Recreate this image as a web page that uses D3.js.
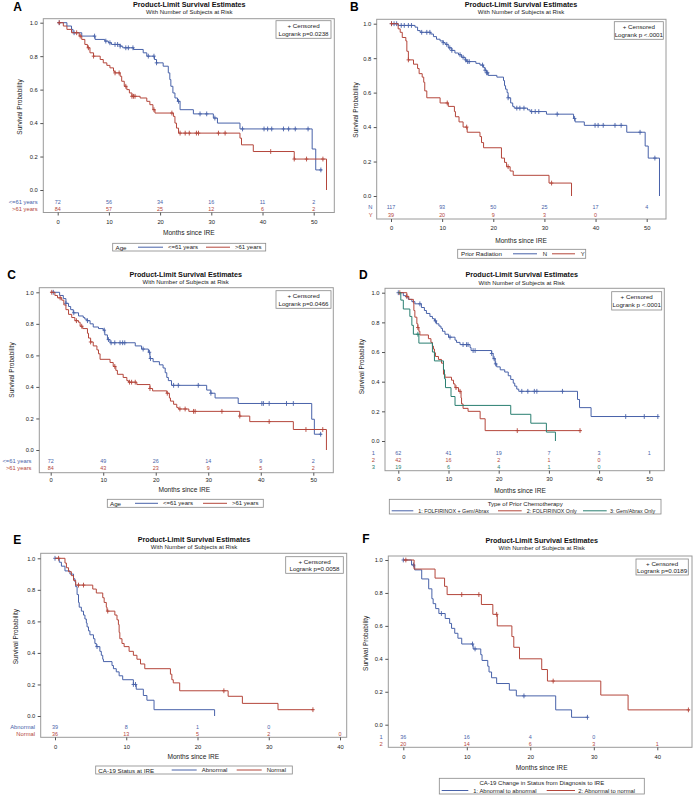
<!DOCTYPE html>
<html><head><meta charset="utf-8">
<script src="https://cdn.jsdelivr.net/npm/d3@7"></script>
<style>
body{margin:0;background:#fff;}
svg{display:block;font-family:"Liberation Sans",Arial,sans-serif;}
</style></head><body>
<svg id="c" width="695" height="795"></svg>
<script>
// ---------------- DATA ----------------
const yTicks = [0, 0.2, 0.4, 0.6, 0.8, 1.0];
const xTicks50 = [0, 10, 20, 30, 40, 50];
const xTicks40 = [0, 10, 20, 30, 40];
const mainTitle = "Product-Limit Survival Estimates";
const subTitle = "With Number of Subjects at Risk";
const xTitle = "Months since IRE";
const yTitle = "Survival Probability";

// Panel A — Age
const A_names = ["<=61 years", ">61 years"];
const A_pvalue = "Logrank p=0.0238";
const A_risk1 = [72, 56, 34, 16, 11, 2];
const A_risk2 = [84, 57, 25, 12, 6, 2];
const A_steps1 = [[0,1],[1.8,0.98],[2.7,0.96],[3.0,0.94],[4.7,0.92],[7.3,0.90],[9.2,0.89],[9.9,0.88],[10.5,0.87],[12.2,0.86],[12.7,0.85],[14.8,0.84],[16.7,0.82],[17.4,0.80],[18.9,0.78],[19.3,0.76],[20.6,0.74],[21.6,0.70],[21.9,0.66],[22.1,0.62],[22.5,0.58],[22.9,0.55],[23.4,0.53],[23.9,0.48],[26.5,0.455],[30.4,0.43],[31.2,0.40],[35.6,0.365],[49.7,0.245],[50.4,0.12]];
const A_end1 = 51.6;
const A_cens1 = [0.3,3.2,7.2,9.4,10.2,11.2,11.7,12.2,13.3,13.8,14.7,17.7,18.8,19.3,23.6,27.8,29.1,30.7,36.1,40.3,41.0,41.8,44.1,45.1,46.4,48.9,51.4];
const A_steps2 = [[0,1],[1.1,0.98],[1.8,0.96],[2.7,0.94],[4.2,0.92],[4.7,0.90],[5.3,0.87],[5.8,0.85],[6.3,0.82],[7.0,0.80],[8.3,0.78],[8.9,0.76],[9.6,0.745],[10.2,0.73],[10.9,0.71],[11.2,0.70],[12.2,0.68],[12.5,0.65],[13.0,0.62],[13.5,0.60],[14.0,0.58],[14.5,0.56],[16.1,0.55],[17.4,0.53],[18.0,0.51],[18.6,0.48],[19.0,0.46],[22.6,0.44],[22.9,0.40],[23.2,0.37],[23.6,0.34],[35.6,0.31],[35.9,0.27],[38.2,0.23],[46.2,0.185],[52.5,0]];
const A_end2 = null;
const A_cens2 = [0.3,3.7,4.4,6.0,7.0,11.2,12.0,13.3,14.5,14.8,15.1,18.8,22.3,23.9,24.9,25.7,27.1,27.5,31.4,32.7,41.6,46.2,48.6,51.8];

// Panel B — Prior Radiation
const B_names = ["N", "Y"];
const B_pvalue = "Logrank p <.0001";
const B_risk1 = [117, 93, 50, 25, 17, 4];
const B_risk2 = [39, 20, 9, 3, 0];
const B_steps1 = [[0,1],[1.4,0.99],[4.7,0.98],[5.2,0.96],[5.7,0.95],[7.8,0.94],[8.3,0.925],[8.9,0.91],[9.6,0.90],[10.2,0.89],[10.6,0.88],[11.2,0.86],[11.9,0.845],[12.5,0.83],[13.2,0.82],[13.8,0.805],[14.5,0.79],[14.8,0.78],[16.6,0.77],[17.4,0.76],[18.1,0.745],[18.4,0.73],[18.7,0.715],[19.0,0.70],[20.7,0.69],[22.0,0.67],[22.2,0.64],[22.4,0.62],[22.7,0.60],[22.9,0.57],[23.4,0.54],[23.8,0.52],[24.1,0.51],[26.7,0.50],[27.2,0.49],[30.4,0.475],[35.7,0.45],[36.0,0.43],[37.8,0.41],[46.1,0.37],[49.7,0.29],[50.3,0.22],[52.5,0]];
const B_end1 = null;
const B_cens1 = [0.1,0.6,1.1,2.0,2.6,3.4,4.0,6.0,7.0,7.6,10.2,10.9,11.5,11.9,13.5,14.1,14.6,15.0,15.3,17.9,18.4,18.7,18.9,22.9,24.6,25.2,26.0,27.5,28.2,28.9,32.5,35.9,39.9,40.5,41.5,43.8,45.0,48.7,51.6];
const B_steps2 = [[0,1],[1.4,0.97],[1.8,0.95],[2.2,0.92],[2.9,0.90],[3.1,0.84],[3.4,0.79],[4.4,0.765],[5.2,0.74],[5.5,0.71],[6.1,0.69],[6.4,0.66],[6.6,0.61],[7.0,0.57],[9.6,0.54],[11.2,0.52],[12.4,0.49],[12.6,0.46],[13.3,0.43],[14.1,0.40],[14.9,0.37],[17.4,0.345],[17.7,0.31],[18.1,0.28],[21.6,0.22],[22.2,0.195],[22.6,0.17],[23.3,0.145],[23.9,0.12],[30.9,0.075],[35.3,0]];
const B_end2 = null;
const B_cens2 = [0.1,3.4,11.0,14.8,22.9,31.4];

// Panel C — Age
const C_names = ["<=61 years", ">61 years"];
const C_pvalue = "Logrank p=0.0466";
const C_risk1 = [72, 49, 26, 14, 9, 2];
const C_risk2 = [84, 43, 23, 9, 5, 2];
const C_steps1 = [[0,1],[1.7,0.98],[2.4,0.96],[2.9,0.93],[3.4,0.91],[3.8,0.89],[4.3,0.87],[5.3,0.85],[6.2,0.84],[6.5,0.83],[6.9,0.82],[7.5,0.80],[8.1,0.78],[9.1,0.77],[10.0,0.76],[10.3,0.73],[10.8,0.70],[11.3,0.68],[16.1,0.66],[17.3,0.64],[18.6,0.62],[18.9,0.58],[19.5,0.56],[20.7,0.54],[21.4,0.52],[21.8,0.49],[22.1,0.46],[22.4,0.44],[23.0,0.41],[29.7,0.38],[30.5,0.36],[31.3,0.33],[35.7,0.295],[49.7,0.195],[50.2,0.10]];
const C_end1 = 51.6;
const C_cens1 = [0.5,2.9,4.4,7.0,10.2,11.0,11.5,12.2,13.2,13.7,14.1,17.6,18.8,19.0,23.4,24.3,28.1,30.5,40.2,40.5,41.6,44.9,46.2,51.4];
const C_steps2 = [[0,1],[0.8,0.98],[1.3,0.965],[2.1,0.95],[2.5,0.92],[2.9,0.89],[3.4,0.86],[4.0,0.84],[4.6,0.82],[5.3,0.81],[5.6,0.785],[6.1,0.77],[7.0,0.74],[7.2,0.71],[7.6,0.685],[8.1,0.66],[8.8,0.635],[9.1,0.61],[9.4,0.575],[11.3,0.555],[11.9,0.53],[12.4,0.505],[12.7,0.48],[13.8,0.46],[14.5,0.44],[14.8,0.43],[16.4,0.415],[18.9,0.39],[19.4,0.375],[22.1,0.36],[22.6,0.33],[22.8,0.31],[23.4,0.29],[24.0,0.27],[24.3,0.26],[26.3,0.245],[36.0,0.215],[37.9,0.18],[46.2,0.13],[52.5,0]];
const C_end2 = null;
const C_cens2 = [0.2,1.8,4.9,5.9,7.6,12.2,15.0,15.4,16.1,18.9,22.2,24.6,25.6,27.2,27.5,32.6,36.0,41.6,48.6,51.8];

// Panel D — Type of Prior Chemotherapy
const D_names = ["1: FOLFIRINOX + Gem/Abrax", "2: FOLFIRINOX Only", "3: Gem/Abrax Only"];
const D_riskLabels = ["1", "2", "3"];
const D_pvalue = "Logrank p <.0001";
const D_risk1 = [62, 41, 19, 7, 3, 1];
const D_risk2 = [42, 16, 2, 1, 0];
const D_risk3 = [19, 6, 4, 1, 0];
const D_steps1 = [[0,1],[1.0,0.98],[1.5,0.97],[2.0,0.955],[2.7,0.94],[3.3,0.925],[4.6,0.90],[5.2,0.88],[5.6,0.86],[6.3,0.84],[6.8,0.825],[7.2,0.81],[7.6,0.79],[8.1,0.775],[8.5,0.76],[8.8,0.74],[9.3,0.72],[10.0,0.70],[11.3,0.68],[11.6,0.665],[12.3,0.65],[14.3,0.63],[14.5,0.61],[18.6,0.59],[18.9,0.555],[19.3,0.52],[19.6,0.50],[20.3,0.48],[21.2,0.465],[21.9,0.44],[22.4,0.415],[22.9,0.39],[23.2,0.37],[23.6,0.35],[24.0,0.335],[35.7,0.28],[36.1,0.225],[38.4,0.165]];
const D_end1 = 51.8;
const D_cens1 = [0.0,4.3,7.4,10.3,12.9,13.6,13.9,14.9,15.3,18.6,19.1,19.4,24.6,25.8,27.1,27.6,32.7,45.3,49.0,51.7];
const D_steps2 = [[0,1],[1.7,0.975],[2.1,0.955],[3.0,0.93],[3.1,0.88],[3.3,0.835],[3.7,0.79],[3.9,0.765],[4.1,0.74],[4.3,0.715],[6.0,0.69],[6.5,0.665],[6.8,0.64],[7.0,0.62],[7.2,0.595],[7.4,0.57],[8.0,0.55],[8.6,0.525],[9.0,0.45],[9.3,0.43],[10.6,0.41],[11.0,0.385],[11.3,0.36],[12.0,0.335],[12.5,0.29],[12.6,0.25],[12.9,0.22],[13.9,0.20],[16.3,0.15],[17.3,0.07]];
const D_end2 = 36.5;
const D_cens2 = [0.3,1.7,3.9,11.5,12.3,23.7,36.2];
const D_steps3 = [[0,1],[0.5,0.95],[1.0,0.89],[2.3,0.84],[2.7,0.78],[3.0,0.72],[4.1,0.66],[6.8,0.60],[7.2,0.54],[9.0,0.48],[9.2,0.42],[9.4,0.36],[10.5,0.30],[11.3,0.24],[22.4,0.18],[26.4,0.12],[29.5,0.06],[31.3,0]];
const D_end3 = null;
const D_cens3 = [3.9];

// Panel E — CA-19 Status at IRE
const E_names = ["Abnormal", "Normal"];
const E_pvalue = "Logrank p=0.0058";
const E_risk1 = [39, 8, 1, 0];
const E_risk2 = [36, 13, 5, 2, 0];
const E_steps1 = [[0,1],[0.6,0.975],[0.9,0.95],[1.4,0.92],[2.1,0.90],[2.6,0.87],[2.8,0.85],[2.9,0.82],[3.1,0.77],[3.3,0.72],[3.4,0.69],[3.7,0.665],[4.0,0.64],[4.2,0.615],[4.4,0.59],[4.5,0.565],[4.7,0.54],[4.9,0.515],[5.4,0.49],[5.6,0.46],[5.8,0.44],[6.3,0.41],[6.5,0.385],[6.7,0.36],[6.8,0.345],[8.0,0.32],[8.2,0.30],[8.6,0.28],[9.0,0.255],[9.5,0.23],[11.0,0.20],[11.4,0.17],[12.4,0.13],[12.9,0.10],[13.9,0.04],[22.4,0]];
const E_end1 = null;
const E_cens1 = [0.0,5.9,11.0,11.3];
const E_steps2 = [[0,1],[1.4,0.97],[1.6,0.94],[1.9,0.915],[2.3,0.89],[2.6,0.86],[2.9,0.83],[5.3,0.805],[5.8,0.78],[6.7,0.75],[6.9,0.72],[7.2,0.69],[7.3,0.665],[8.4,0.64],[8.7,0.61],[8.9,0.58],[9.0,0.53],[9.1,0.49],[9.4,0.46],[9.7,0.44],[10.4,0.41],[11.0,0.385],[11.5,0.36],[12.0,0.33],[12.6,0.30],[16.2,0.265],[16.4,0.23],[16.6,0.21],[17.5,0.16],[24.3,0.125],[26.3,0.08],[31.3,0.04]];
const E_end2 = 36.3;
const E_cens2 = [0.5,3.3,4.0,7.4,23.7,36.2];

// Panel F — CA-19 Change in Status from Diagnosis to IRE
const F_names = ["1: Abnormal to abnormal", "2: Abnormal to normal"];
const F_riskLabels = ["1", "2"];
const F_pvalue = "Logrank p=0.0189";
const F_risk1 = [36, 16, 4, 0];
const F_risk2 = [20, 14, 6, 3, 1];
const F_steps1 = [[0,1],[1.3,0.97],[1.8,0.94],[2.9,0.885],[4.0,0.825],[4.5,0.765],[4.7,0.735],[5.1,0.705],[5.6,0.675],[6.6,0.645],[7.3,0.615],[7.6,0.585],[8.1,0.555],[8.6,0.525],[9.2,0.49],[11.0,0.46],[12.2,0.425],[12.4,0.39],[13.3,0.355],[13.5,0.32],[13.9,0.285],[14.7,0.25],[16.7,0.21],[17.8,0.175],[24.0,0.09],[26.5,0.045]];
const F_end1 = 29.1;
const F_cens1 = [0.0,1.6,6.0,10.9,11.3,19.0,29.0];
const F_steps2 = [[0,1],[1.7,0.945],[5.0,0.89],[6.5,0.84],[6.9,0.79],[12.3,0.73],[14.1,0.67],[14.8,0.60],[17.1,0.535],[17.4,0.47],[18.3,0.40],[21.8,0.335],[22.7,0.265],[31.1,0.18],[35.4,0.09]];
const F_end2 = 45.1;
const F_cens2 = [0.4,9.2,11.9,14.7,23.6,44.9];

// ---------------- STYLE ----------------
const BLUE = "#4862a9", RED = "#b4463b", GREEN = "#2a7f71";
const FRAME = "#9a9a9a", TXT = "#222";

// ---------------- LAYOUT + BUILD ----------------
const panels = [
 {letter:"A", lx:13.3, ly:7, title:[189.3,4.3,12.2],
  frame:[43.3,18.7,334.3,212.5], xd:[0,50], xr:[57.7,313.7], yr:[190,22.7], xt:xTicks50,
  ylab:[19,107], xlab:[188.8,232.7], tickY:221.7,
  cbox:[276,20.7,331,38.3], pval:A_pvalue,
  riskX:37.7, riskY:[202,209.3], riskLabels:A_names,
  series:[{s:A_steps1,e:A_end1,c:A_cens1,r:A_risk1,col:BLUE},{s:A_steps2,e:A_end2,c:A_cens2,r:A_risk2,col:RED}],
  legend:{box:[112.7,243.3,265.7,251], y:247.2, fs:6.0, title:{t:"Age",x:115.5}, items:[[138,163,168,A_names[0]],[206,230,235,A_names[1]]]}},
 {letter:"B", lx:350, ly:7, title:[521,4.3,12.2],
  frame:[376.7,19.3,666,219], xd:[0,50], xr:[391,646.7], yr:[196,23.7], xt:xTicks50,
  ylab:[355,110], xlab:[521,240], tickY:228.3,
  cbox:[614.3,21.7,663.3,39.3], pval:B_pvalue,
  riskX:372.5, riskY:[207.3,214.7], riskLabels:B_names,
  series:[{s:B_steps1,e:B_end1,c:B_cens1,r:B_risk1,col:BLUE},{s:B_steps2,e:B_end2,c:B_cens2,r:B_risk2,col:RED}],
  legend:{box:[457.7,249.3,585.7,258.3], y:253.8, fs:6.0, title:{t:"Prior Radiation",x:461}, items:[[513,537,542.7,B_names[0]],[552,575,580.7,B_names[1]]]}},
 {letter:"C", lx:7.3, ly:275, title:[185.7,274.6,282.4],
  frame:[39.3,287.7,333.3,472.7], xd:[0,50], xr:[50.7,313.3], yr:[450,292.3], xt:xTicks50,
  ylab:[11.7,370], xlab:[184.3,489.3], tickY:480,
  cbox:[276,290.7,331,308.3], pval:C_pvalue,
  riskX:31.5, riskY:[460.7,468.3], riskLabels:C_names,
  series:[{s:C_steps1,e:C_end1,c:C_cens1,r:C_risk1,col:BLUE},{s:C_steps2,e:C_end2,c:C_cens2,r:C_risk2,col:RED}],
  legend:{box:[107.3,499.3,263.3,507.3], y:503.3, fs:6.0, title:{t:"Age",x:110}, items:[[135,158,163,C_names[0]],[203,227,232,C_names[1]]]}},
 {letter:"D", lx:359, ly:275.3, title:[521.7,274.8,282.8],
  frame:[385,288.3,664.3,470.7], xd:[0,50], xr:[398.3,649.3], yr:[441,292.7], xt:xTicks50,
  ylab:[361.7,366.7], xlab:[520,490], tickY:479,
  cbox:[611.7,291.7,661.7,310], pval:D_pvalue,
  riskX:375, riskY:[452.5,459.7,466.9], riskLabels:D_riskLabels,
  series:[{s:D_steps1,e:D_end1,c:D_cens1,r:D_risk1,col:BLUE},{s:D_steps2,e:D_end2,c:D_cens2,r:D_risk2,col:RED},{s:D_steps3,e:D_end3,c:D_cens3,r:D_risk3,col:GREEN}],
  legend:{box:[389.3,499.3,661,514], y:510.8, fs:5.3, ctitle:{t:"Type of Prior Chemotherapy",y:503.6}, items:[[391.7,413.3,418.3,D_names[0]],[498,521.7,526.7,D_names[1]],[583,606.7,610,D_names[2]]]}},
 {letter:"E", lx:13.3, ly:539.5, title:[194,539,547.1],
  frame:[40.7,553.3,346.7,737.3], xd:[0,40], xr:[55,340], yr:[716,558.3], xt:xTicks40,
  ylab:[15,636.7], xlab:[193.3,756.7], tickY:746.7,
  cbox:[285.7,556.7,343.3,573.3], pval:E_pvalue,
  riskX:35, riskY:[727.3,734.2], riskLabels:E_names,
  series:[{s:E_steps1,e:E_end1,c:E_cens1,r:E_risk1,col:BLUE},{s:E_steps2,e:E_end2,c:E_cens2,r:E_risk2,col:RED}],
  legend:{box:[95.7,766,292.3,774], y:770, fs:6.0, title:{t:"CA-19 Status at IRE",x:98.3}, items:[[171.7,196.7,201.7,E_names[0]],[236.7,261.7,266.7,E_names[1]]]}},
 {letter:"F", lx:362.3, ly:538.7, title:[541.7,540,548.3],
  frame:[388.3,556,692,747.3], xd:[0,40], xr:[403.3,657.3], yr:[724.7,560], xt:xTicks40,
  ylab:[365,643.3], xlab:[541.7,767.7], tickY:756.7,
  cbox:[636,559,688.3,575], pval:F_pvalue,
  riskX:382.8, riskY:[736.7,744], riskLabels:F_riskLabels,
  series:[{s:F_steps1,e:F_end1,c:F_cens1,r:F_risk1,col:BLUE},{s:F_steps2,e:F_end2,c:F_cens2,r:F_risk2,col:RED}],
  legend:{box:[439.3,778.3,644.3,794], y:790.5, fs:5.8, ctitle:{t:"CA-19 Change in Status from Diagnosis to IRE",y:782.6}, items:[[441.7,468.3,473.3,F_names[0]],[546.7,575,578.3,F_names[1]]]}}
];

const svg = d3.select("#c");
svg.append("rect").attr("width",695).attr("height",795).attr("fill","#fff");

function survAt(steps, t){
  let v = 1;
  for (const [tt, s] of steps) { if (tt <= t + 1e-9) v = s; else break; }
  return v;
}

function txt(g, x, y, s, opt={}){
  const t = g.append("text").attr("x",x).attr("y",y).text(s)
    .attr("font-size", opt.size || 6.2).attr("fill", opt.fill || TXT)
    .attr("dominant-baseline","central")
    .attr("text-anchor", opt.anchor || "start");
  if (opt.bold) t.attr("font-weight","bold");
  return t;
}

panels.forEach(p => {
  const g = svg.append("g");
  const x = d3.scaleLinear().domain(p.xd).range(p.xr);
  const y = d3.scaleLinear().domain([0,1]).range(p.yr);
  const [fx0, fy0, fx1, fy1] = p.frame;

  // frame
  g.append("rect").attr("x",fx0).attr("y",fy0).attr("width",fx1-fx0).attr("height",fy1-fy0)
    .attr("fill","none").attr("stroke",FRAME).attr("stroke-width",1);

  // y axis
  const ya = g.append("g").attr("transform",`translate(${fx0},0)`)
    .call(d3.axisLeft(y).tickValues(yTicks).tickFormat(d3.format(".1f")).tickSize(3).tickPadding(2.5));
  ya.select(".domain").remove();
  ya.selectAll("line").attr("stroke","#555");
  ya.selectAll("text").attr("font-size",5.8).attr("fill",TXT).attr("font-family","Liberation Sans, Arial, sans-serif");

  // x axis
  const xa = g.append("g").attr("transform",`translate(0,${fy1})`)
    .call(d3.axisBottom(x).tickValues(p.xt).tickFormat(d3.format("d")).tickSize(3).tickPadding(3));
  xa.select(".domain").remove();
  xa.selectAll("line").attr("stroke","#555");
  xa.selectAll("text").attr("font-size",5.8).attr("fill",TXT).attr("font-family","Liberation Sans, Arial, sans-serif")
    .attr("dy",null).attr("y", p.tickY - fy1).attr("dominant-baseline","central");

  // curves
  const line = d3.line().x(d=>x(d[0])).y(d=>y(d[1])).curve(d3.curveStepAfter);
  p.series.forEach(sr => {
    const pts = sr.s.slice();
    if (sr.e != null) pts.push([sr.e, sr.s[sr.s.length-1][1]]);
    g.append("path").attr("d", line(pts)).attr("fill","none").attr("stroke",sr.col).attr("stroke-width",1);
    const cp = sr.c.map(t => { const cx = x(t), cy = y(survAt(sr.s, t)); return `M${cx-1.8},${cy}h3.6M${cx},${cy-2.4}v4.8`; }).join("");
    g.append("path").attr("d", cp).attr("fill","none").attr("stroke",sr.col).attr("stroke-width",0.9);
  });

  // at-risk table
  p.series.forEach((sr, i) => {
    txt(g, p.riskX, p.riskY[i], p.riskLabels[i], {anchor:"end", fill:sr.col, size:5.8});
    sr.r.forEach((n, j) => txt(g, x(p.xt[j]), p.riskY[i], n, {anchor:"middle", fill:sr.col, size:5.4}));
  });

  // titles
  txt(g, p.lx, p.ly, p.letter, {size:12, bold:true, fill:"#000"});
  txt(g, p.title[0], p.title[1], mainTitle, {size:7.2, bold:true, anchor:"middle", fill:"#111"});
  txt(g, p.title[0], p.title[2], subTitle, {size:6.0, anchor:"middle"});
  txt(g, p.xlab[0], p.xlab[1], xTitle, {size:6.6, anchor:"middle"});
  txt(g, 0, 0, yTitle, {size:6.5, anchor:"middle"})
    .attr("transform",`translate(${p.ylab[0]},${p.ylab[1]}) rotate(-90)`);

  // censored / logrank box
  const [bx0,by0,bx1,by1] = p.cbox;
  g.append("rect").attr("x",bx0).attr("y",by0).attr("width",bx1-bx0).attr("height",by1-by0)
    .attr("fill","#fff").attr("stroke","#888").attr("stroke-width",0.8);
  const bh = by1 - by0;
  txt(g, (bx0+bx1)/2, by0 + bh*0.28, "+ Censored", {anchor:"middle", size:6.2});
  txt(g, (bx0+bx1)/2, by0 + bh*0.70, p.pval, {anchor:"middle", size:6.2});

  // legend
  const L = p.legend;
  g.append("rect").attr("x",L.box[0]).attr("y",L.box[1]).attr("width",L.box[2]-L.box[0]).attr("height",L.box[3]-L.box[1])
    .attr("fill","#fff").attr("stroke","#888").attr("stroke-width",0.8);
  if (L.title) txt(g, L.title.x, L.y, L.title.t, {size:6.2});
  if (L.ctitle) txt(g, (L.box[0]+L.box[2])/2, L.ctitle.y, L.ctitle.t, {size:6.0, anchor:"middle"});
  L.items.forEach((it, i) => {
    g.append("line").attr("x1",it[0]).attr("x2",it[1]).attr("y1",L.y).attr("y2",L.y)
      .attr("stroke",p.series[i].col).attr("stroke-width",1);
    txt(g, it[2], L.y, it[3], {size:L.fs});
  });
});
</script>
</body></html>
